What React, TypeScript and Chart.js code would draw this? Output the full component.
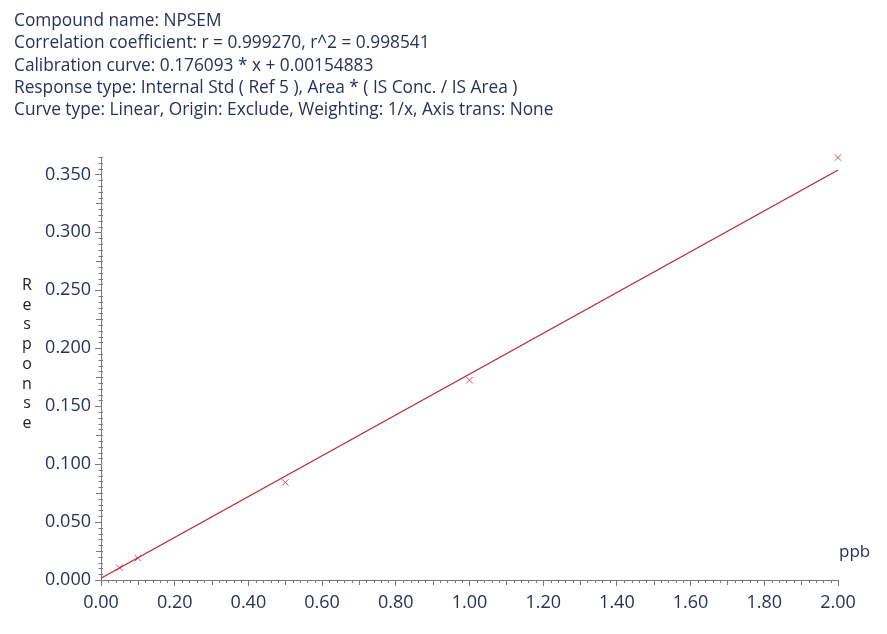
import React, { useEffect, useRef } from 'react';
import { Chart, registerables } from 'chart.js';

Chart.register(...registerables);

const stdConc = [0.05, 0.1, 0.5, 1.0, 2.0];
const stdResponse = [0.0105, 0.0188, 0.0842, 0.1724, 0.3645];

// Fitted calibration line end points (0.176093 * x + 0.00154883)
const fitConc = [0, 2.0];
const fitResponse = [0.0015, 0.3537];

const headerLines = [
  'Compound name: NPSEM',
  'Correlation coefficient: r = 0.999270, r^2 = 0.998541',
  'Calibration curve: 0.176093 * x + 0.00154883',
  'Response type: Internal Std ( Ref 5 ), Area * ( IS Conc. / IS Area )',
  'Curve type: Linear, Origin: Exclude, Weighting: 1/x, Axis trans: None',
];

const yTitle = 'Response';
const xUnit = 'ppb';

const X_MAX = 2.0;
const Y_MAX = 0.365;

const W = 887;
const H = 634;
const LEFT = 101;
const RIGHT = 838;
const TOP = 157;
const BOTTOM = 580;

const TEXT = '#28305c';
const AXIS = '#7a7a7a';
const FONT = '"Open Sans", Lato, sans-serif';

// minor tick marks, drawn through the chart's scales
const minorTicks = {
  id: 'minorTicks',
  afterDraw(chart: Chart) {
    const { ctx } = chart;
    const xs = chart.scales.x;
    const ys = chart.scales.y;
    const x0 = xs.getPixelForValue(0);
    const y0 = ys.getPixelForValue(0);
    ctx.save();
    ctx.strokeStyle = AXIS;
    ctx.lineWidth = 1;
    ctx.beginPath();
    // y: every 0.005, longer at 0.025
    for (let i = 1; i * 0.005 <= Y_MAX + 1e-9; i++) {
      if (i % 10 === 0) continue;
      const py = Math.round(ys.getPixelForValue(i * 0.005)) + 0.5;
      const len = i % 5 === 0 ? 5 : 2.5;
      ctx.moveTo(x0 - len, py);
      ctx.lineTo(x0 + 2, py);
    }
    // x: every 0.02, longer at 0.1
    for (let i = 1; i * 0.02 <= X_MAX + 1e-9; i++) {
      if (i % 10 === 0) continue;
      const px = Math.round(xs.getPixelForValue(i * 0.02)) + 0.5;
      const len = i % 5 === 0 ? 5 : 3;
      ctx.moveTo(px, y0);
      ctx.lineTo(px, y0 + len);
    }
    ctx.stroke();
    ctx.restore();
  },
};

const App: React.FC = () => {
  const canvasRef = useRef<HTMLCanvasElement | null>(null);

  useEffect(() => {
    if (!canvasRef.current) return;
    const chart = new Chart(canvasRef.current, {
      type: 'scatter',
      data: {
        datasets: [
          {
            type: 'line',
            data: fitConc.map((x, i) => ({ x, y: fitResponse[i] })),
            borderColor: '#b8323f',
            borderWidth: 1.3,
            pointRadius: 0,
            fill: false,
          },
          {
            data: stdConc.map((x, i) => ({ x, y: stdResponse[i] })),
            pointStyle: 'crossRot',
            pointRadius: 4.5,
            borderColor: '#c4525a',
            borderWidth: 1,
            backgroundColor: 'transparent',
            clip: false,
          },
        ],
      },
      options: {
        responsive: false,
        animation: false,
        layout: { padding: { top: TOP, right: W - RIGHT, left: 0, bottom: 0 } },
        plugins: {
          legend: { display: false },
          tooltip: { enabled: false },
        },
        scales: {
          x: {
            type: 'linear',
            min: 0,
            max: X_MAX,
            afterFit: (scale) => {
              scale.height = H - BOTTOM;
            },
            border: { color: AXIS, width: 1 },
            grid: { drawOnChartArea: false, color: AXIS, tickLength: 6 },
            ticks: {
              stepSize: 0.2,
              includeBounds: false,
              color: TEXT,
              font: { family: FONT, size: 18 },
              padding: 6,
              maxRotation: 0,
              callback: (v) => Number(v).toFixed(2),
            },
          },
          y: {
            type: 'linear',
            min: 0,
            max: Y_MAX,
            afterFit: (scale) => {
              scale.width = LEFT;
            },
            border: { color: AXIS, width: 1 },
            grid: { drawOnChartArea: false, color: AXIS, tickLength: 6 },
            ticks: {
              stepSize: 0.05,
              includeBounds: false,
              color: TEXT,
              font: { family: FONT, size: 18 },
              padding: 4,
              callback: (v) => Number(v).toFixed(3),
            },
          },
        },
      },
      plugins: [minorTicks],
    });
    return () => chart.destroy();
  }, []);

  return (
    <div style={{ position: 'relative', width: W, height: H, margin: -8, background: '#fff', fontFamily: FONT }}>
      <canvas ref={canvasRef} width={W} height={H} style={{ position: 'absolute', left: 0, top: 0 }} />
      <div
        style={{
          position: 'absolute',
          left: 2,
          top: 2,
          width: W - 6,
          height: H - 6,
          boxSizing: 'border-box',
          border: '4px solid rgb(140, 140, 140)',
          zIndex: 5,
        }}
      />
      <div style={{ position: 'absolute', left: 14, top: 9, color: TEXT, fontSize: 17.3, lineHeight: '22.3px', whiteSpace: 'nowrap' }}>
        {headerLines.map((t) => (
          <div key={t}>{t}</div>
        ))}
      </div>
      <div
        style={{
          position: 'absolute',
          left: 17,
          top: 275,
          width: 20,
          textAlign: 'center',
          color: '#222',
          fontSize: 16,
          lineHeight: '19.7px',
        }}
      >
        {yTitle.split('').map((c, i) => (
          <div key={i}>{c}</div>
        ))}
      </div>
      <div style={{ position: 'absolute', left: 839, top: 539, color: TEXT, fontSize: 17 }}>{xUnit}</div>
    </div>
  );
};

export default App;
